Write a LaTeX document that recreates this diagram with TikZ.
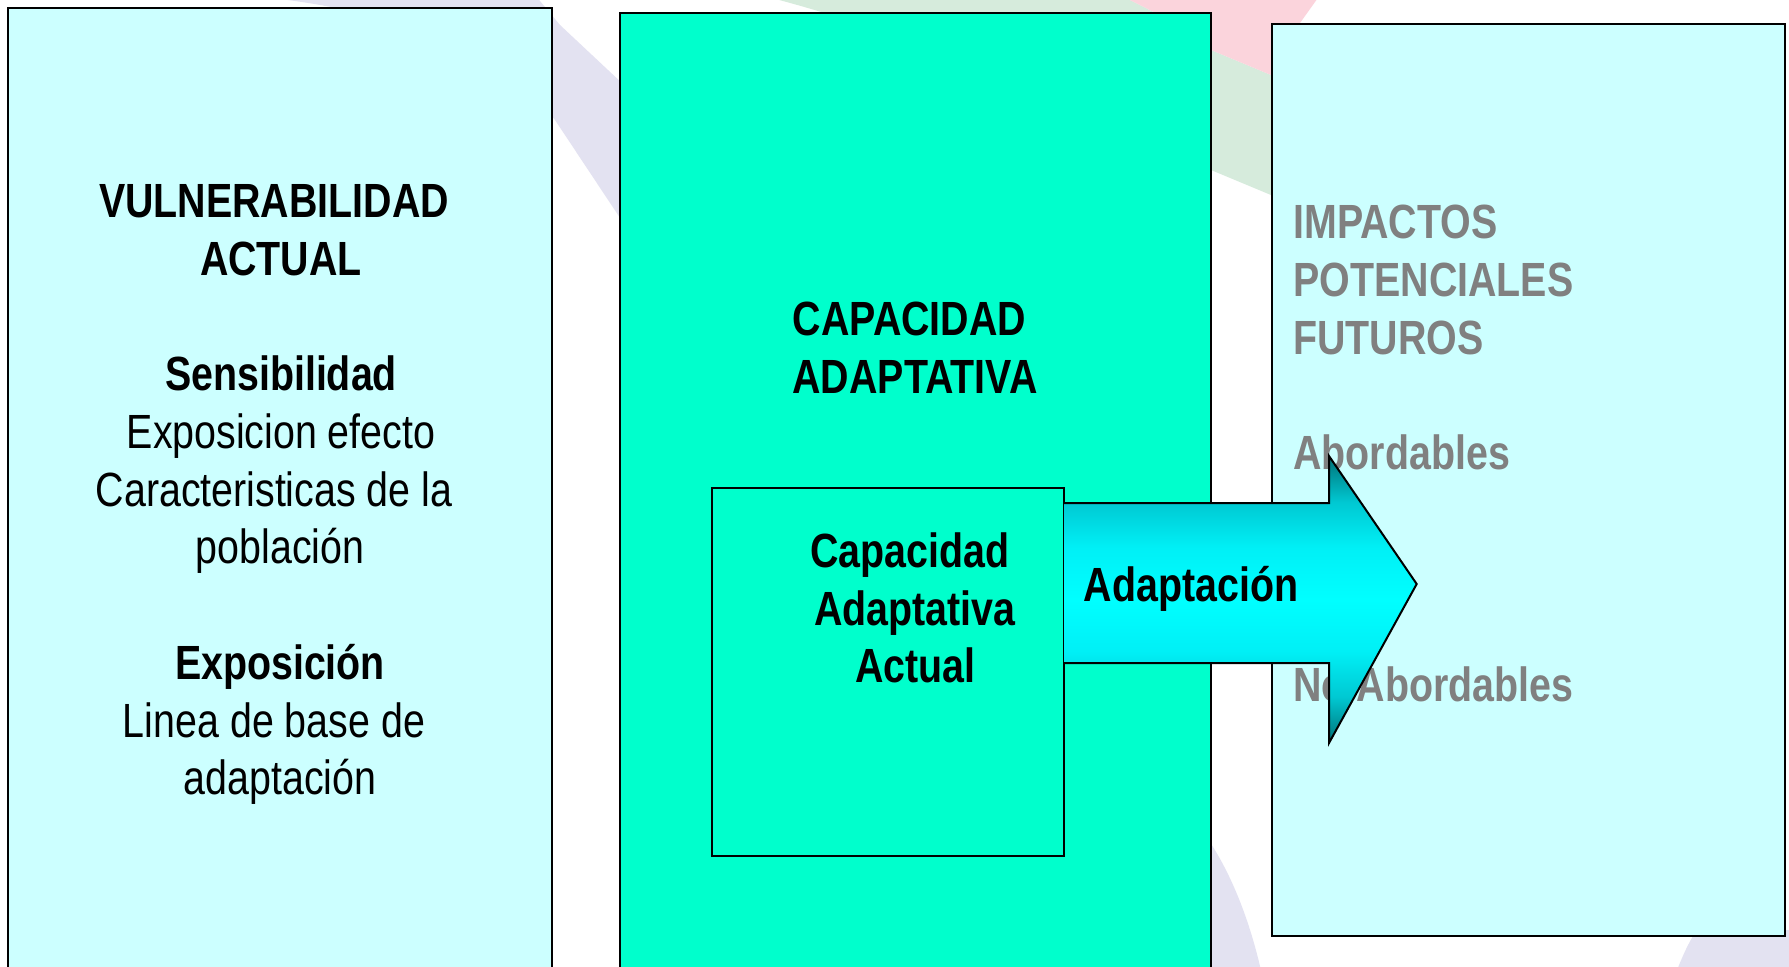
\documentclass[tikz,border=0pt]{standalone}
\usepackage{fontspec}
\setmainfont{Liberation Sans}[FakeStretch=0.82]
\definecolor{lcyan}{HTML}{CCFFFF}
\definecolor{aqua}{HTML}{00FFCC}
\definecolor{lav}{HTML}{E3E2F1}
\definecolor{wgreen}{HTML}{D6EBDC}
\definecolor{wpink}{HTML}{FBD4DC}
\definecolor{greytext}{HTML}{808080}
\definecolor{ardark}{RGB}{0,112,118}
\definecolor{armid}{RGB}{0,200,210}
\definecolor{arlight}{RGB}{0,240,246}
\definecolor{arcyan}{RGB}{0,255,255}
\pgfdeclareverticalshading{arrowshade}{100bp}{color(0bp)=(ardark); color(25bp)=(ardark); color(33bp)=(armid); color(41bp)=(arlight); color(50bp)=(arcyan); color(59bp)=(arlight); color(67bp)=(armid); color(75bp)=(ardark); color(100bp)=(ardark)}
\tikzset{
  boxline/.style={draw=black, line width=1pt},
  txt/.style={anchor=base, inner sep=0pt, font=\fontsize{24}{28.8}\selectfont},
  btxt/.style={txt, font=\fontsize{24}{28.8}\selectfont\bfseries},
  gtxt/.style={btxt, anchor=base west, text=greytext}
}
\begin{document}
\begin{tikzpicture}[x=0.5pt,y=-0.5pt]
\useasboundingbox (0,0) rectangle (1789,966);
\clip (0,0) rectangle (1789,966);
% faint background watermark
\fill[white] (0,0) rectangle (1789,966);
\fill[lav] (245,-5) -- (535,-5) -- (560,25) -- (640,100) -- (640,248) -- (555,120) .. controls (500,50) and (400,10) .. (245,-5) -- cycle;
\fill[wgreen] (760,-5) -- (1120,-5) .. controls (1170,20) .. (1211,50) -- (1295,85) -- (1295,205) -- (1211,170) .. controls (1100,110) and (900,30) .. (760,-5) -- cycle;
\fill[wpink] (1120,-5) -- (1320,-5) -- (1295,30) -- (1295,85) -- (1211,50) .. controls (1170,20) .. (1120,-5) -- cycle;
\fill[lav] (1205,835) .. controls (1230,870) and (1250,920) .. (1262,975) -- (1205,975) -- cycle;
\fill[lav] (1675,975) .. controls (1685,950) and (1690,940) .. (1697,930) -- (1795,930) -- (1795,975) -- cycle;
% main boxes
\draw[boxline, fill=lcyan] (8,8) rectangle (552,1000);
\draw[boxline, fill=aqua] (620,12.5) rectangle (1211,1000);
\draw[boxline, fill=lcyan] (1272,24) rectangle (1785,936);
% right column text
\node[gtxt] (imp1) at (1293,238) {IMPACTOS};
\node[gtxt] (imp2) at (1293,296) {POTENCIALES};
\node[gtxt] (imp3) at (1293,354) {FUTUROS};
\node[gtxt] (abo) at (1293,469) {Abordables};
\node[gtxt] (noabo) at (1293,701) {No Abordables};
% inner box
\draw[boxline, fill=aqua] (712,488) rectangle (1064,856);
% block arrow
\shade[shading=arrowshade] (1064,503) -- (1329,503) -- (1329,456) -- (1416.7,584) -- (1329,743) -- (1329,663) -- (1064,663) -- cycle;
\draw[boxline, line join=miter] (1064,503) -- (1329,503) -- (1329,456) -- (1416.7,584) -- (1329,743) -- (1329,663) -- (1064,663);
\node[btxt] (adap) at (1191,601) {Adaptación};
% left column text
\node[btxt] (v1) at (274,217.7) {VULNERABILIDAD};
\node[btxt] (v2) at (281,275.4) {ACTUAL};
\node[btxt] (s1) at (281,390.8) {Sensibilidad};
\node[txt] (s2) at (281,448.5) {Exposicion efecto};
\node[txt] (s3) at (274,506.2) {Caracteristicas de la};
\node[txt] (s4) at (280,563.9) {población};
\node[btxt] (e1) at (280,679.3) {Exposición};
\node[txt] (e2) at (274,737) {Linea de base de};
\node[txt] (e3) at (280,794.7) {adaptación};
% middle text
\node[btxt] (c1) at (909.5,335.7) {CAPACIDAD};
\node[btxt] (c2) at (915,393.2) {ADAPTATIVA};
\node[btxt] (i1) at (910,567.7) {Capacidad};
\node[btxt] (i2) at (915,625.2) {Adaptativa};
\node[btxt] (i3) at (915.5,682.7) {Actual};
\end{tikzpicture}
\end{document}
